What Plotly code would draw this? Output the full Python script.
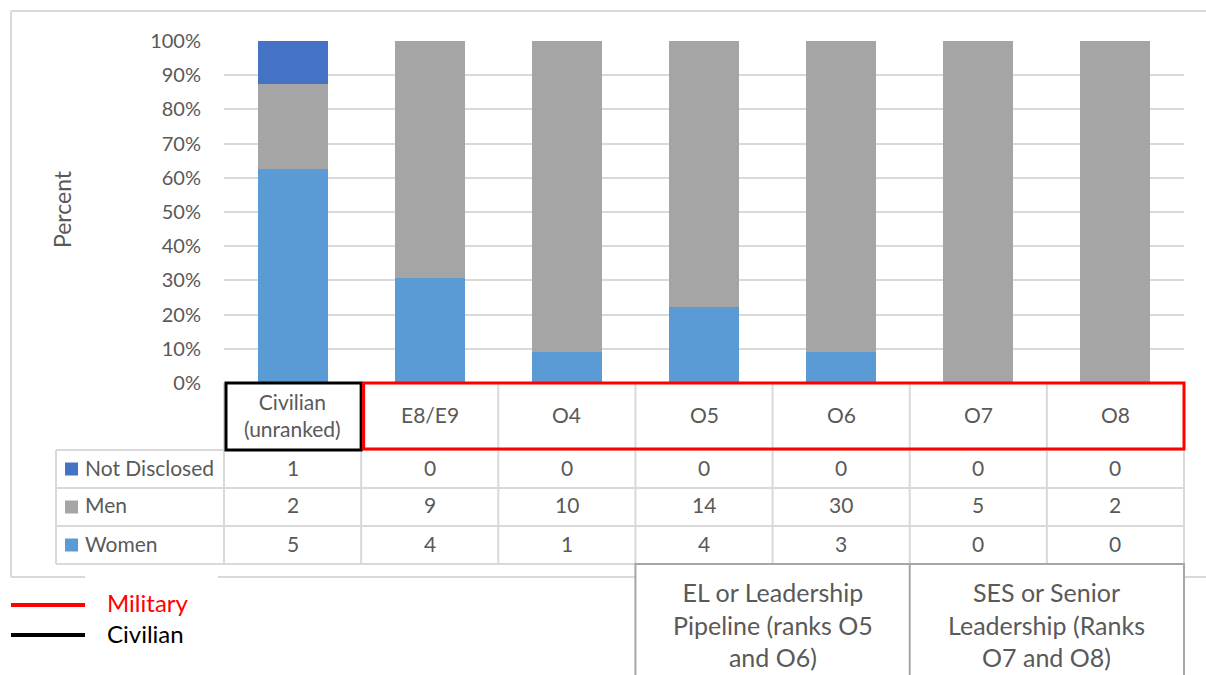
import plotly.graph_objects as go

# ---- data ----
categories = ["Civilian<br>(unranked)", "E8/E9", "O4", "O5", "O6", "O7", "O8"]
not_disclosed = [1, 0, 0, 0, 0, 0, 0]
men = [2, 9, 10, 14, 30, 5, 2]
women = [5, 4, 1, 4, 3, 0, 0]
row_names = ["Not Disclosed", "Men", "Women"]
y_tick_values = [0, 10, 20, 30, 40, 50, 60, 70, 80, 90, 100]
y_tick_labels = ["0%", "10%", "20%", "30%", "40%", "50%", "60%", "70%", "80%", "90%", "100%"]
group_labels = ["EL or Leadership<br>Pipeline (ranks O5<br>and O6)",
                "SES or Senior<br>Leadership (Ranks<br>O7 and O8)"]
line_key = ["Military", "Civilian"]

# ---- styling ----
W, H = 1206, 675
FONT = "Lato"
TXT = "#595959"
GRID = "#D9D9D9"
COL = {"Not Disclosed": "#4472C4", "Men": "#A5A5A5", "Women": "#5B9BD5"}
PL, PR, PT, PB = 224, 1184, 41, 383          # plot area in pixels
COLW = (PR - PL) / len(categories)
ROW_Y = [450, 488, 526, 564]                 # table row boundaries
TABLE_L = 56


def X(px):
    return px / W


def Y(py):
    return 1 - py / H


def col_edge(i):
    return PL + i * COLW


def col_mid(i):
    return PL + (i + 0.5) * COLW


counts = {"Not Disclosed": not_disclosed, "Men": men, "Women": women}
totals = [a + b + c for a, b, c in zip(not_disclosed, men, women)]

fig = go.Figure()
xs = list(range(len(categories)))
for name in ["Women", "Men", "Not Disclosed"]:
    pct = [v / t * 100 for v, t in zip(counts[name], totals)]
    fig.add_trace(go.Bar(x=xs, y=pct, name=name, marker_color=COL[name],
                         marker_line_width=0, width=0.51))

shapes = []


def line(x0, y0, x1, y1, color, w):
    shapes.append(dict(type="line", xref="paper", yref="paper",
                       x0=X(x0), y0=Y(y0), x1=X(x1), y1=Y(y1),
                       line=dict(color=color, width=w), layer="above"))


# outer frame
line(11, 11, 11, 577, GRID, 2)
line(11, 11, W + 2, 11, GRID, 2)
line(11, 577, 85, 577, GRID, 2)
line(218, 577, 636, 577, GRID, 2)
line(1184, 577, W + 2, 577, GRID, 2)

# data table grid
for yy in ROW_Y:
    line(TABLE_L, yy, PR, yy, GRID, 2)
line(TABLE_L, ROW_Y[0], TABLE_L, ROW_Y[-1], GRID, 2)
for i in range(len(categories) + 1):
    line(col_edge(i), PB, col_edge(i), ROW_Y[-1], GRID, 2)

# legend keys inside the table
for r, name in enumerate(row_names):
    cy = (ROW_Y[r] + ROW_Y[r + 1]) / 2
    shapes.append(dict(type="rect", xref="paper", yref="paper",
                       x0=X(65), x1=X(78), y0=Y(cy - 6.5), y1=Y(cy + 6.5),
                       fillcolor=COL[name], line_width=0, layer="above"))

# civilian / military outlines on the header row
shapes.append(dict(type="rect", xref="paper", yref="paper",
                   x0=X(col_edge(0) + 2), x1=X(col_edge(1)), y0=Y(PB), y1=Y(ROW_Y[0]),
                   line=dict(color="black", width=3), layer="above"))
shapes.append(dict(type="rect", xref="paper", yref="paper",
                   x0=X(col_edge(1) + 2.5), x1=X(PR), y0=Y(PB), y1=Y(ROW_Y[0] - 1),
                   line=dict(color="red", width=3), layer="above"))

# grouping boxes under the table
shapes.append(dict(type="rect", xref="paper", yref="paper",
                   x0=X(col_edge(3)), x1=X(col_edge(7)), y0=Y(ROW_Y[-1]), y1=Y(H + 10),
                   fillcolor="white", line=dict(color="#A6A6A6", width=2), layer="above"))
line(col_edge(5), ROW_Y[-1], col_edge(5), H + 10, "#A6A6A6", 2)

# key lines for the outlines
line(11, 605, 85, 605, "red", 4)
line(11, 635, 85, 635, "black", 4)

annotations = []


def text(px, py, s, size=18, color=TXT, xanchor="center", angle=0):
    annotations.append(dict(x=X(px), y=Y(py), xref="paper", yref="paper",
                            text=s, showarrow=False, xanchor=xanchor, yanchor="middle",
                            yshift=2, textangle=angle,
                            font=dict(family=FONT, size=size, color=color)))


for i, c in enumerate(categories):
    text(col_mid(i), (PB + ROW_Y[0]) / 2, c, size=21)
for r, name in enumerate(row_names):
    cy = (ROW_Y[r] + ROW_Y[r + 1]) / 2
    text(83, cy, name, size=21, xanchor="left")
    for i, v in enumerate(counts[name]):
        text(col_mid(i), cy, str(v), size=21)

text((col_edge(3) + col_edge(5)) / 2, 626, group_labels[0], size=25)
text((col_edge(5) + col_edge(7)) / 2, 626, group_labels[1], size=25)
text(105, 604, line_key[0], size=24, color="red", xanchor="left")
text(105, 635, line_key[1], size=24, color="black", xanchor="left")
text(62, 211, "Percent", size=23, angle=-90)

fig.update_layout(
    width=W, height=H, margin=dict(l=0, r=0, t=0, b=0, autoexpand=False),
    paper_bgcolor="white", plot_bgcolor="white",
    barmode="stack", showlegend=False,
    font=dict(family=FONT, color=TXT),
    xaxis=dict(domain=[X(PL), X(PR)], range=[-0.5, len(categories) - 0.5],
               showticklabels=False, showgrid=False, zeroline=False,
               automargin=False, fixedrange=True),
    yaxis=dict(domain=[Y(PB), Y(PT)], range=[0, 100], tickvals=y_tick_values,
               ticktext=y_tick_labels, showgrid=True, gridcolor=GRID, gridwidth=1.5,
               zeroline=False, ticklabelstandoff=22, automargin=False,
               tickfont=dict(family=FONT, size=20, color=TXT)),
    shapes=shapes, annotations=annotations,
)

fig.write_html("out.html")
